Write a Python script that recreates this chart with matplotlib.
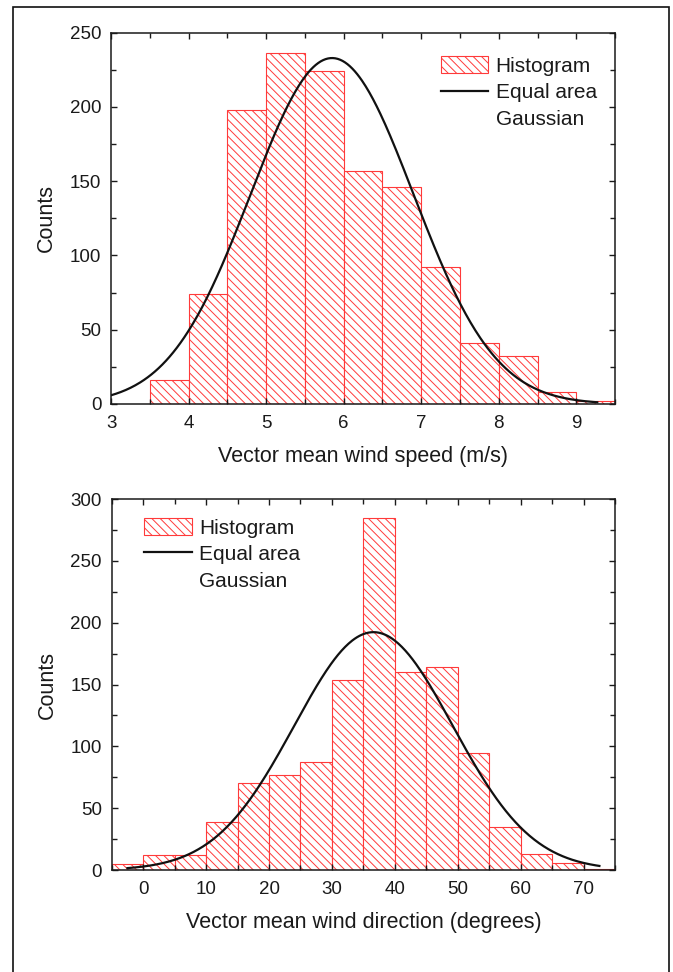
import numpy as np
import matplotlib
matplotlib.use('Agg')
import matplotlib.pyplot as plt
from matplotlib.patches import Rectangle
from matplotlib.ticker import MultipleLocator

plt.rcParams['font.family'] = ['Liberation Sans', 'DejaVu Sans']
plt.rcParams['hatch.linewidth'] = 0.7

# wind speed histogram (bin width 0.5 m/s)
speed_edges = [3.5, 4.0, 4.5, 5.0, 5.5, 6.0, 6.5, 7.0, 7.5, 8.0, 8.5, 9.0]
speed_counts = [16, 74, 198, 236, 224, 157, 146, 92, 41, 32, 8, 2]
speed_width = 0.5
speed_mu = 5.85
speed_sigma = 1.05
speed_curve_range = (3.0, 9.27)

# wind direction histogram (bin width 5 degrees)
dir_edges = [-5, 0, 5, 10, 15, 20, 25, 30, 35, 40, 45, 50, 55, 60, 65, 70]
dir_counts = [5, 12, 12, 39, 70, 77, 87, 154, 285, 160, 164, 95, 35, 13, 6, 1]
dir_width = 5
dir_mu = 36.6
dir_sigma = 12.6
dir_curve_range = (-2.5, 72.5)

red = '#ff3a3a'
dark = '#1a1a1a'


def gauss(x, area, mu, sigma):
    return area / (sigma * np.sqrt(2 * np.pi)) * np.exp(-(x - mu) ** 2 / (2 * sigma ** 2))


def panel(ax, edges, counts, width, mu, sigma, crange, xlim, ylim, xmaj, xmin, xlabel, leg_xy):
    bars = ax.bar(edges, counts, width=width, align='edge', facecolor='white',
                  edgecolor=red, linewidth=0.8, hatch='\\\\\\\\', zorder=1)
    area = sum(counts) * width
    x = np.linspace(crange[0], crange[1], 400)
    line, = ax.plot(x, gauss(x, area, mu, sigma), color='#111111', lw=1.6, zorder=2)
    blank, = ax.plot([], [], color='none')

    ax.set_xlim(*xlim)
    ax.set_ylim(*ylim)
    ax.xaxis.set_major_locator(MultipleLocator(xmaj))
    ax.xaxis.set_minor_locator(MultipleLocator(xmin))
    ax.yaxis.set_major_locator(MultipleLocator(50))
    ax.yaxis.set_minor_locator(MultipleLocator(25))
    ax.tick_params(which='both', direction='in', top=True, right=True,
                   width=1.0, color=dark, labelsize=13.5, labelcolor=dark)
    ax.tick_params(which='major', length=4.5)
    ax.tick_params(which='minor', length=3.5)
    ax.tick_params(axis='y', pad=7)
    ax.tick_params(axis='x', pad=7.7)
    for s in ax.spines.values():
        s.set_linewidth(1.1)
        s.set_color(dark)

    ax.set_xlabel(xlabel, fontsize=15.5, color=dark)
    ax.set_ylabel('Counts', fontsize=15.5, color=dark)
    ax.yaxis.set_label_coords(-0.107, 0.5)
    ax.xaxis.set_label_coords(0.5, -0.112)

    ax.legend([bars, line, blank], ['Histogram', 'Equal area', 'Gaussian'],
              loc='upper left', bbox_to_anchor=leg_xy, frameon=False,
              fontsize=15, borderpad=0, borderaxespad=0, handlelength=2.26,
              handleheight=0.87, handletextpad=0.37, labelspacing=0.34,
              labelcolor=dark)


fig = plt.figure(figsize=(6.73, 9.72), dpi=100)

ax1 = fig.add_axes([0.165, 0.5844, 0.749, 0.382])
panel(ax1, speed_edges, speed_counts, speed_width, speed_mu, speed_sigma,
      speed_curve_range, (3, 9.5), (0, 250), 1, 0.5,
      'Vector mean wind speed (m/s)', (0.654, 0.937))

ax2 = fig.add_axes([0.166, 0.1049, 0.748, 0.3817])
panel(ax2, dir_edges, dir_counts, dir_width, dir_mu, dir_sigma,
      dir_curve_range, (-5, 75), (0, 300), 10, 5,
      'Vector mean wind direction (degrees)', (0.065, 0.949))

fig.add_artist(Rectangle((13 / 673, -0.02), 656 / 673, 1.02 - 6.5 / 972,
                         transform=fig.transFigure, fill=False,
                         edgecolor='#111111', linewidth=1.2))

fig.savefig('out.png', dpi=100)
